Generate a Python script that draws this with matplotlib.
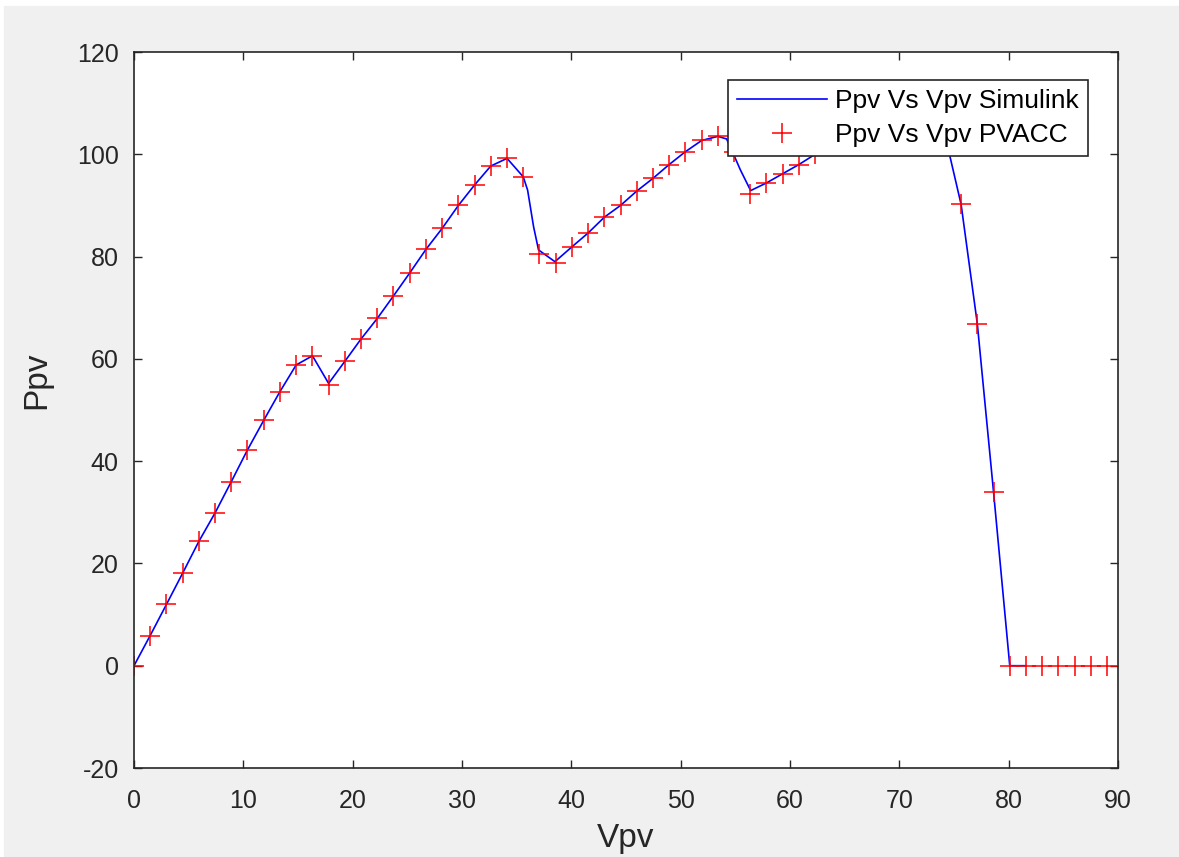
import numpy as np
import matplotlib.pyplot as plt
from matplotlib.patches import Rectangle

plt.rcParams['font.family'] = ['Liberation Sans', 'DejaVu Sans']
plt.rcParams['axes.unicode_minus'] = False

# PVACC points (red +)
v_pvacc = [0.0, 1.48, 2.97, 4.45, 5.93, 7.42, 8.9, 10.38, 11.87, 13.35,
           14.83, 16.32, 17.8, 19.28, 20.77, 22.25, 23.73, 25.22, 26.7, 28.18,
           29.67, 31.15, 32.63, 34.12, 35.6, 37.08, 38.57, 40.05, 41.53, 43.02,
           44.5, 45.98, 47.47, 48.95, 50.43, 51.92, 53.4, 54.88, 56.37, 57.85,
           59.33, 60.82, 62.3, 63.78, 65.27, 66.75, 68.23, 69.72, 71.2, 72.68,
           74.17, 75.65, 77.13, 78.62, 80.1, 81.58, 83.07, 84.55, 86.03, 87.52,
           89.0]
p_pvacc = [0.0, 5.9, 12.0, 18.1, 24.3, 29.9, 36.0, 42.2, 48.0, 53.6,
           58.8, 60.6, 54.8, 59.5, 63.9, 67.9, 72.3, 76.8, 81.4, 85.5,
           90.0, 94.0, 97.7, 99.2, 95.6, 80.5, 78.8, 81.9, 84.6, 87.7,
           90.0, 92.8, 95.3, 98.0, 100.5, 102.7, 103.5, 100.5, 92.3, 94.4,
           96.2, 98.0, 100.0, 101.8, 103.5, 105.0, 106.4, 107.6, 108.3, 107.5,
           103.0, 90.2, 66.9, 33.9, 0.0, 0.0, 0.0, 0.0, 0.0, 0.0,
           0.0]

# Simulink curve (blue line)
v_sim = [0.0, 1.48, 2.97, 4.45, 5.93, 7.42, 8.9, 10.38, 11.87, 13.35,
         14.83, 16.32, 17.8, 19.28, 20.77, 22.25, 23.73, 25.22, 26.7, 28.18,
         29.67, 31.15, 32.63, 34.12, 35.6, 36.0, 36.55, 37.0, 38.5, 40.05,
         41.53, 43.02, 44.5, 45.98, 47.47, 48.95, 50.43, 51.92, 53.4, 54.2,
         55.0, 55.45, 56.4, 57.85, 59.33, 60.82, 62.3, 63.78, 65.27, 66.75,
         68.23, 69.72, 71.2, 72.68, 73.6, 74.65, 75.65, 77.13, 78.62, 80.1,
         81.58]
p_sim = [0.0, 5.9, 12.0, 18.1, 24.3, 29.9, 36.0, 42.2, 48.0, 53.6,
         58.8, 60.6, 55.2, 59.5, 63.9, 67.9, 72.3, 76.8, 81.4, 85.5,
         90.0, 94.0, 97.7, 99.2, 95.6, 93.0, 85.8, 81.3, 79.0, 81.9,
         84.6, 87.7, 90.0, 92.8, 95.3, 98.0, 100.5, 102.7, 103.5, 103.0,
         99.2, 97.0, 92.9, 94.4, 96.2, 98.0, 100.0, 101.8, 103.5, 105.0,
         106.4, 107.6, 108.3, 107.5, 105.5, 99.4, 90.2, 66.9, 33.9, 0.0,
         0.0]

W, H = 1179, 857
fig = plt.figure(figsize=(W / 100, H / 100), dpi=100, facecolor='white')
fig.patches.append(Rectangle((4 / W, 0), 1 - 4 / W, 1 - 6 / H,
                             transform=fig.transFigure, color='#f0f0f0', zorder=-10))

ax = fig.add_axes([134 / W, 1 - 768 / H, 984 / W, 716 / H])
ax.plot(v_sim, p_sim, color='#0000ff', linewidth=1.2, label='Ppv Vs Vpv Simulink')
ax.plot(v_pvacc, p_pvacc, linestyle='none', marker='+', color='#ff0000',
        markersize=14, markeredgewidth=1.1, label='Ppv Vs Vpv PVACC')

ax.set_xlim(0, 90)
ax.set_ylim(-20, 120)
ax.set_xticks(np.arange(0, 91, 10))
ax.set_yticks(np.arange(-20, 121, 20))
ax.tick_params(direction='in', length=6, width=1, top=True, right=True,
               labelsize=18, colors='#262626')
ax.tick_params(axis='x', pad=15)
ax.tick_params(axis='y', pad=11)
for s in ax.spines.values():
    s.set_color('#262626')
    s.set_linewidth(1.2)

ax.set_xlabel('Vpv', fontsize=24, color='#262626', labelpad=7)
ax.set_ylabel('Ppv', fontsize=24, color='#262626')
ax.yaxis.set_label_coords(-0.083, 0.542)

leg = ax.legend(loc='upper right', bbox_to_anchor=(0.9695, 0.961), borderaxespad=0,
                fontsize=19, fancybox=False, framealpha=1, edgecolor='#262626',
                handlelength=3.4, handletextpad=0.3, labelspacing=0.38,
                borderpad=0.35, numpoints=1)
leg.get_frame().set_linewidth(1.2)

plt.savefig('out.png', dpi=100)
